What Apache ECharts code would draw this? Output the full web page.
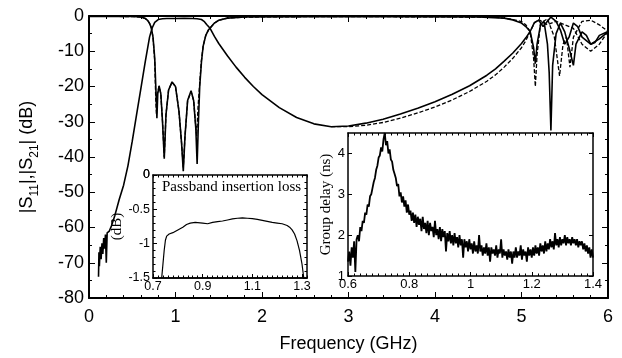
<!DOCTYPE html>
<html><head><meta charset="utf-8">
<script src="https://cdn.jsdelivr.net/npm/echarts@6/dist/echarts.min.js"></script>
<style>html,body{margin:0;padding:0;background:#fff}#c{width:622px;height:358px}</style>
</head><body><div id="c"></div>
<script>
// ---------- Main plot data (GHz, dB) ----------
const s21MeasF = [0.11,0.115,0.12,0.13,0.14,0.15,0.16,0.17,0.18,0.19,0.2,0.21,0.22,0.235,0.26,0.3,0.35,0.4,0.45,0.5,0.55,0.6,0.65,0.7,0.73,0.76,0.8,0.85,0.9,1.0,1.1,1.2,1.25,1.3,1.33,1.36,1.4,1.45,1.5,1.6,1.7,1.8,1.9,2.0,2.2,2.4,2.6,2.8,3.0,3.2,3.4,3.6,3.8,4.0,4.2,4.4,4.6,4.7,4.8,4.9,5.0,5.05,5.1,5.15,5.2,5.25,5.3,5.34,5.4,5.45,5.5,5.55,5.6,5.65,5.7,5.8,5.9,6.0];
const s21MeasDb = [-74,-67,-71,-65.5,-69,-64.5,-67.5,-63,-66,-62,-70,-61.5,-62,-61,-59.5,-56.5,-52,-48,-42.5,-35.5,-28,-20.5,-13,-6,-3.4,-1.8,-1.0,-0.8,-0.7,-0.7,-0.65,-0.7,-0.8,-1.0,-1.5,-2.4,-3.5,-5.8,-7.8,-11.3,-14.5,-17.4,-20,-22.3,-26,-28.8,-30.6,-31.4,-31.2,-30.4,-29.3,-27.8,-26.2,-24.3,-22.2,-19.8,-16.8,-15,-12.8,-10.5,-7.8,-6.2,-4.4,-1.8,-1.2,-3,-1.5,-0.3,-1.5,-4,-8,-6,-2,-3,-6,-8,-6.5,-4.5];

const s11MeasF = [0,0.3,0.5,0.6,0.65,0.68,0.7,0.72,0.74,0.76,0.775,0.785,0.795,0.81,0.83,0.85,0.87,0.89,0.92,0.96,1.0,1.04,1.07,1.09,1.11,1.14,1.18,1.21,1.235,1.25,1.265,1.28,1.3,1.32,1.35,1.38,1.4,1.45,1.5,1.6,1.8,2.5,3.5,4.5,4.8,4.9,5.0,5.05,5.1,5.14,5.16,5.18,5.22,5.26,5.3,5.32,5.34,5.36,5.4,5.45,5.5,5.55,5.6,5.63,5.7,5.75,5.8,5.85,5.9,6.0];
const s11MeasDb = [-0.1,-0.1,-0.15,-0.3,-0.7,-1.3,-2.1,-3.3,-6,-12,-22,-29,-22,-19.8,-22,-30,-40.5,-28,-21,-18.7,-20,-27,-36,-44,-34,-24,-21.2,-24,-32,-42,-30,-20,-13,-8.5,-5.5,-4,-3.5,-2,-1.2,-0.6,-0.3,-0.2,-0.2,-0.3,-0.6,-1.1,-2,-3,-4.4,-9,-13.5,-8,-2.5,-1.5,-8,-16,-32.5,-14,-5,-2,-4.5,-9,-14,-8,-4.5,-5.5,-8,-7.5,-5.5,-4.4];

const s11SimF = [0,0.5,0.6,0.65,0.68,0.7,0.72,0.74,0.76,0.772,0.78,0.79,0.81,0.83,0.85,0.87,0.89,0.92,0.96,1.0,1.04,1.07,1.09,1.11,1.14,1.18,1.21,1.23,1.245,1.26,1.28,1.3,1.32,1.35,1.38,1.4,1.45,1.5,1.6,1.8,2.5,3.5,4.5,4.7,4.8,4.9,5.0,5.05,5.1,5.14,5.16,5.18,5.22,5.3,5.38,5.44,5.48,5.52,5.56,5.6,5.7,5.8,5.9,6.0];
const s11SimDb = [-0.1,-0.15,-0.3,-0.7,-1.3,-2.1,-3.3,-6,-13,-24,-28,-22,-20,-22,-30,-40,-28,-21,-18.8,-20,-27,-36,-43,-34,-24,-21.5,-24,-30,-34,-26,-19,-12.5,-8.5,-5.5,-4,-3.5,-2,-1.2,-0.6,-0.3,-0.2,-0.2,-0.3,-0.4,-0.6,-1,-1.6,-2.5,-4.4,-12,-20,-11,-2,-0.8,-6,-17,-8,-6,-14.5,-6,-1.5,-1.2,-2.5,-4.4];

const s21SimF = [2.8,3.0,3.2,3.4,3.6,3.8,4.0,4.2,4.4,4.6,4.7,4.8,4.9,5.0,5.05,5.1,5.15,5.2,5.3,5.4,5.5,5.6,5.7,5.8,5.9,6.0];
const s21SimDb = [-31.4,-31.4,-31,-30.2,-29,-27.5,-25.8,-23.8,-21.4,-18.5,-16.7,-14.5,-12,-9,-7,-4.4,-2,-1,-2.5,-1.5,-2.5,-3.5,-8,-10,-8,-4.4];

// ---------- Inset 1: passband insertion loss ----------
const ilF = [0.735,0.74,0.745,0.75,0.755,0.765,0.78,0.8,0.82,0.835,0.85,0.87,0.9,0.92,0.94,0.96,0.98,1.0,1.02,1.04,1.06,1.08,1.1,1.12,1.14,1.16,1.18,1.2,1.22,1.24,1.25,1.26,1.27,1.28,1.29,1.3,1.307];
const ilDb = [-1.5,-1.3,-1.1,-0.95,-0.89,-0.86,-0.84,-0.8,-0.76,-0.72,-0.7,-0.69,-0.7,-0.71,-0.69,-0.68,-0.67,-0.655,-0.64,-0.63,-0.625,-0.63,-0.635,-0.645,-0.66,-0.675,-0.69,-0.7,-0.71,-0.735,-0.76,-0.8,-0.86,-0.96,-1.1,-1.3,-1.5];
const ilTopTick = 0;  // top tick value of the inset's dB axis

// ---------- Inset 2: group delay (ns), f from 0.6 GHz step 0.004 GHz ----------
const gdStart = 0.6, gdStep = 0.004;
const gdNs = [1.35,1.6,1.25,1.7,1.45,1.85,1.1,1.9,2.0,1.85,2.2,2.1,2.35,2.3,2.55,2.5,2.75,2.7,2.95,3.0,
3.15,3.3,3.4,3.6,3.7,3.9,3.95,4.15,4.05,4.35,4.5,4.2,4.3,4.0,4.1,3.85,3.8,3.6,3.5,3.4,
3.2,3.25,2.95,3.05,2.8,2.95,2.7,2.85,2.55,2.75,2.5,2.6,2.35,2.55,2.3,2.5,2.2,2.45,2.25,2.4,
2.1,2.45,2.15,2.3,2.05,2.35,2.0,2.3,2.1,2.2,1.95,2.35,2.0,2.15,1.9,2.2,1.85,2.15,1.95,2.1,
1.6,2.05,1.85,2.1,1.8,2.0,1.75,2.05,1.8,1.95,1.7,2.0,1.75,1.9,1.45,1.9,1.7,1.85,1.6,1.9,
1.65,1.8,1.55,1.85,1.6,1.75,1.55,2.0,1.6,1.75,1.5,1.7,1.55,1.8,1.5,1.7,1.35,1.7,1.55,1.65,
1.5,1.75,1.45,1.65,1.55,1.9,1.45,1.65,1.5,1.6,1.4,1.65,1.45,1.6,1.3,1.6,1.45,1.7,1.45,1.6,
1.5,1.75,1.4,1.65,1.5,1.6,1.35,1.7,1.5,1.65,1.45,1.7,1.5,1.75,1.55,1.7,1.5,1.8,1.6,1.75,
1.55,1.85,1.6,1.8,1.65,1.9,1.7,1.85,1.65,2.05,1.75,1.9,1.7,1.95,1.75,1.9,1.8,2.0,1.75,1.95,
1.8,1.9,1.75,1.95,1.8,1.9,1.75,1.9,1.7,1.85,1.75,1.85,1.65,1.8,1.6,1.75,1.55,1.7,1.45,1.65,1.45];

// ---------- Tick labels / axis titles ----------
const mainXName = 'Frequency (GHz)';
const mainYName = '|S{sub|11}|,|S{sub|21}| (dB)';
const inset1Title = 'Passband insertion loss';
const inset1YName = '(dB)';
const inset2YName = 'Group delay (ns)';

function zip(a, b) { return a.map((v, i) => [v, b[i]]); }
const gdData = gdNs.map((v, i) => [+(gdStart + i * gdStep).toFixed(3), v]);

const K = '#000';
const sans = 'Liberation Sans';
const serif = 'Liberation Serif';

function ax(gridIndex, pos, min, max, interval, o) {
  o = o || {};
  return Object.assign({
    type: 'value', gridIndex: gridIndex, position: pos, min: min, max: max, interval: interval,
    axisLine: { show: true, onZero: false, lineStyle: { color: K, width: o.lw || 1.5 } },
    axisTick: { show: true, inside: true, length: o.tl || 5, lineStyle: { color: K, width: 1 } },
    minorTick: { show: !!o.minor, splitNumber: o.minor || 5, length: o.ml || 3, lineStyle: { color: K, width: 1 } },
    splitLine: { show: false },
    axisLabel: { show: !!o.label, color: K, fontFamily: sans, fontSize: o.fs || 18, margin: o.margin || 4,
      showMinLabel: true, showMaxLabel: o.showMax !== false, hideOverlap: false },
    z: o.z || 0
  }, o.extra || {});
}

const xAxes = [
  ax(0, 'bottom', 0, 6, 1, { label: true, fs: 18, margin: 10, minor: 5, tl: 6, lw: 2, extra: {
    name: mainXName, nameLocation: 'middle', nameGap: 37,
    nameTextStyle: { fontFamily: sans, fontSize: 18, color: K } } }),
  ax(0, 'top', 0, 6, 1, { minor: 5, tl: 6, lw: 2 }),
  // inset 1
  ax(1, 'bottom', 0.7, 1.32, 0.2, { label: true, fs: 12.5, margin: 2, showMax: false, tl: 4, z: 4 }),
  ax(1, 'bottom', 0.7, 1.32, 0.02, { tl: 2.5, z: 4 }),
  ax(1, 'top', 0.7, 1.32, 0.02, { tl: 2.5, z: 4 }),
  // inset 2
  ax(2, 'bottom', 0.6, 1.4, 0.2, { label: true, fs: 13, margin: 2, minor: 10, ml: 2.5, tl: 4, z: 4 }),
  ax(2, 'top', 0.6, 1.4, 0.2, { minor: 10, ml: 2.5, tl: 4, z: 4 })
];

const yAxes = [
  ax(0, 'left', -80, 0, 10, { label: true, fs: 18, margin: 5, minor: 2, tl: 6, lw: 2, extra: {
    name: mainYName, nameLocation: 'middle', nameGap: 48, nameRotate: 90,
    nameTextStyle: { fontFamily: sans, fontSize: 18, color: K, lineHeight: 28,
      rich: { sub: { fontFamily: sans, fontSize: 12, color: K, lineHeight: 12, verticalAlign: 'bottom' } } } } }),
  ax(0, 'right', -80, 0, 10, { minor: 2, tl: 6, lw: 2 }),
  // inset 1
  ax(1, 'left', -1.5, 0, 0.5, { label: true, fs: 12.5, margin: 3, minor: 5, ml: 2.5, tl: 4, z: 4, extra: {
    name: inset1YName, nameLocation: 'middle', nameGap: 17, nameRotate: 90,
    nameTextStyle: { fontFamily: serif, fontSize: 15, color: K } } }),
  ax(1, 'right', -1.5, 0, 0.5, { minor: 5, ml: 2.5, tl: 4, z: 4 }),
  // inset 2
  ax(2, 'left', 1, 4.5, 1, { label: true, fs: 13, margin: 3, showMax: false, tl: 4, z: 4, extra: {
    name: inset2YName, nameLocation: 'middle', nameGap: 9, nameRotate: 90,
    nameTextStyle: { fontFamily: serif, fontSize: 15, color: K } } }),
  ax(2, 'right', 1, 4.5, 1, { tl: 4, z: 4 })
];

function line(name, data, xi, yi, dashed, width, z) {
  return {
    name: name, type: 'line', data: data, xAxisIndex: xi, yAxisIndex: yi,
    showSymbol: false, symbol: 'none', smooth: false, animation: false, z: z || 2,
    lineStyle: { color: K, width: width || 1.4, type: dashed ? [4, 2] : 'solid' }
  };
}

const option = {
  animation: false,
  backgroundColor: '#fff',
  title: { text: inset1Title, left: 162, top: 180, padding: 0, z: 6,
    textStyle: { fontFamily: serif, fontSize: 15, fontWeight: 'normal', color: K } },
  grid: [
    { left: 89, top: 16, width: 519, height: 282 },
    { left: 153, top: 175, width: 154, height: 103, show: true, backgroundColor: '#fff', borderWidth: 0, z: 3 },
    { left: 348, top: 133, width: 245, height: 143, show: true, backgroundColor: '#fff', borderWidth: 0, z: 3 }
  ],
  xAxis: xAxes,
  yAxis: yAxes,
  series: [
    line('S21 sim', zip(s21SimF, s21SimDb), 0, 0, true, 1.3),
    line('S11 sim', zip(s11SimF, s11SimDb), 0, 0, true, 1.3),
    line('S21 meas', zip(s21MeasF, s21MeasDb), 0, 0, false, 1.6),
    line('S11 meas', zip(s11MeasF, s11MeasDb), 0, 0, false, 1.6),
    line('Insertion loss', zip(ilF, ilDb), 2, 2, false, 1.2, 5),
    line('Group delay', gdData, 5, 4, false, 1.8, 5)
  ]
};

const chart = echarts.init(document.getElementById('c'), null, { renderer: 'canvas' });
chart.setOption(option);

// The top "0" label of the insertion-loss axis is suppressed by the library;
// place it at the position given by that axis' own scale.
const p = chart.convertToPixel({ xAxisIndex: 2, yAxisIndex: 2 }, [0.7, ilTopTick]);
chart.setOption({
  graphic: [{
    type: 'text', x: p[0] - 3, y: p[1], z: 10,
    style: { text: String(ilTopTick), fill: K, font: '12.5px "Liberation Sans"', align: 'right', verticalAlign: 'middle' }
  }]
});
</script>
</body></html>
